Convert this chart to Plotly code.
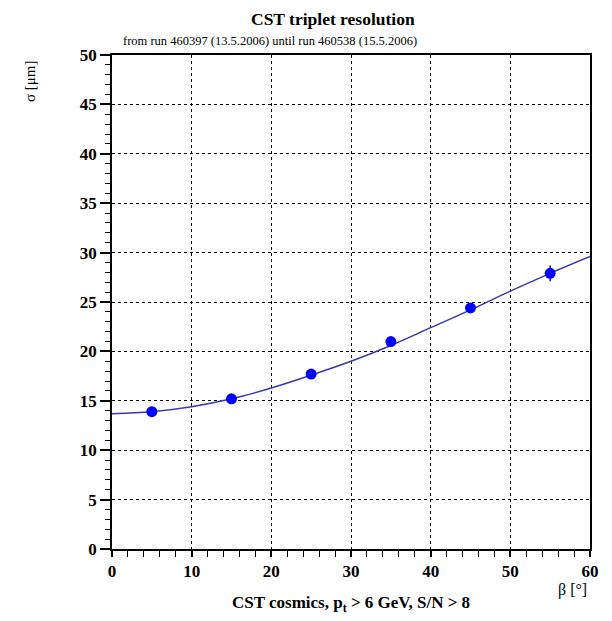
import plotly.graph_objects as go

# Data points (beta in degrees, sigma in micrometres)
beta = [5, 15, 25, 35, 45, 55]
sigma = [13.9, 15.2, 17.7, 21.0, 24.4, 27.9]
sigma_err = [0.3, 0.3, 0.3, 0.3, 0.4, 0.8]

# Fit curve
fit_beta = [0, 5, 10, 15, 20, 25, 30, 35, 40, 45, 50, 55, 60]
fit_sigma = [13.7, 13.9, 14.4, 15.2, 16.3, 17.6, 19.0, 20.6, 22.4, 24.2, 26.1, 27.9, 29.6]

x_ticks = [0, 10, 20, 30, 40, 50, 60]
y_ticks = [0, 5, 10, 15, 20, 25, 30, 35, 40, 45, 50]

FONT = "Liberation Serif"
OFF = 8  # page body margin
W, H = 604, 613
ML, MR, MT, MB = 104, 22, 47, 72

fig = go.Figure()
fig.add_trace(go.Scatter(
    x=fit_beta, y=fit_sigma, mode="lines", line_shape="spline",
    line=dict(color="#3a3aa8", width=1.5), hoverinfo="skip", showlegend=False))
fig.add_trace(go.Scatter(
    x=beta, y=sigma, mode="markers",
    marker=dict(color="#0000ff", size=11),
    error_y=dict(type="data", array=sigma_err, color="#0000ff", thickness=1.5, width=0),
    showlegend=False))

axis_common = dict(
    showline=True, linecolor="black", linewidth=1.5, mirror=True,
    tickwidth=1.5, tickcolor="black",
    showgrid=True, gridcolor="black", gridwidth=1, griddash="dot",
    zeroline=False,
    tickfont=dict(family=FONT, size=17, color="black", weight="bold"),
)

fig.update_xaxes(range=[0, 60], tickvals=x_ticks, ticktext=[str(v) for v in x_ticks],
                 ticks="outside", ticklen=6,
                 minor=dict(dtick=2, ticks="outside", ticklen=6, tickwidth=1.2,
                            tickcolor="black", showgrid=False),
                 **axis_common)
fig.update_yaxes(range=[0, 50], tickvals=y_ticks, ticktext=[str(v) for v in y_ticks],
                 ticks="outside", ticklen=10,
                 minor=dict(dtick=1, ticks="outside", ticklen=5, tickwidth=1.2,
                            tickcolor="black", showgrid=False),
                 **axis_common)

# (text, window x, window y, size, angle)
texts = [
    ("<b>CST triplet resolution</b>", 333, 19, 17.5, 0),
    ("from run 460397 (13.5.2006) until run 460538 (15.5.2006)", 270, 41, 12.5, 0),
    ("σ [μm]", 30, 81, 15, -90),
    ("<b>CST cosmics, p<sub>t</sub> > 6 GeV, S/N > 8</b>", 351, 604, 17, 0),
    ("β [°]", 572, 590, 16, 0),
]

pw = W - ML - MR
ph = H - MT - MB
annotations = []
for t, wx, wy, sz, ang in texts:
    fx = wx - OFF
    fy = wy - OFF
    annotations.append(dict(
        text=t, x=(fx - ML) / pw, y=1 - (fy - MT) / ph, textangle=ang,
        xref="paper", yref="paper", showarrow=False, borderpad=0,
        xanchor="center", yanchor="middle",
        font=dict(family=FONT, size=sz, color="black")))

fig.update_layout(
    width=W, height=H,
    margin=dict(l=ML, r=MR, t=MT, b=MB),
    paper_bgcolor="white", plot_bgcolor="white",
    annotations=annotations,
    font=dict(family=FONT, color="black"),
)

fig.write_html("out.html")
